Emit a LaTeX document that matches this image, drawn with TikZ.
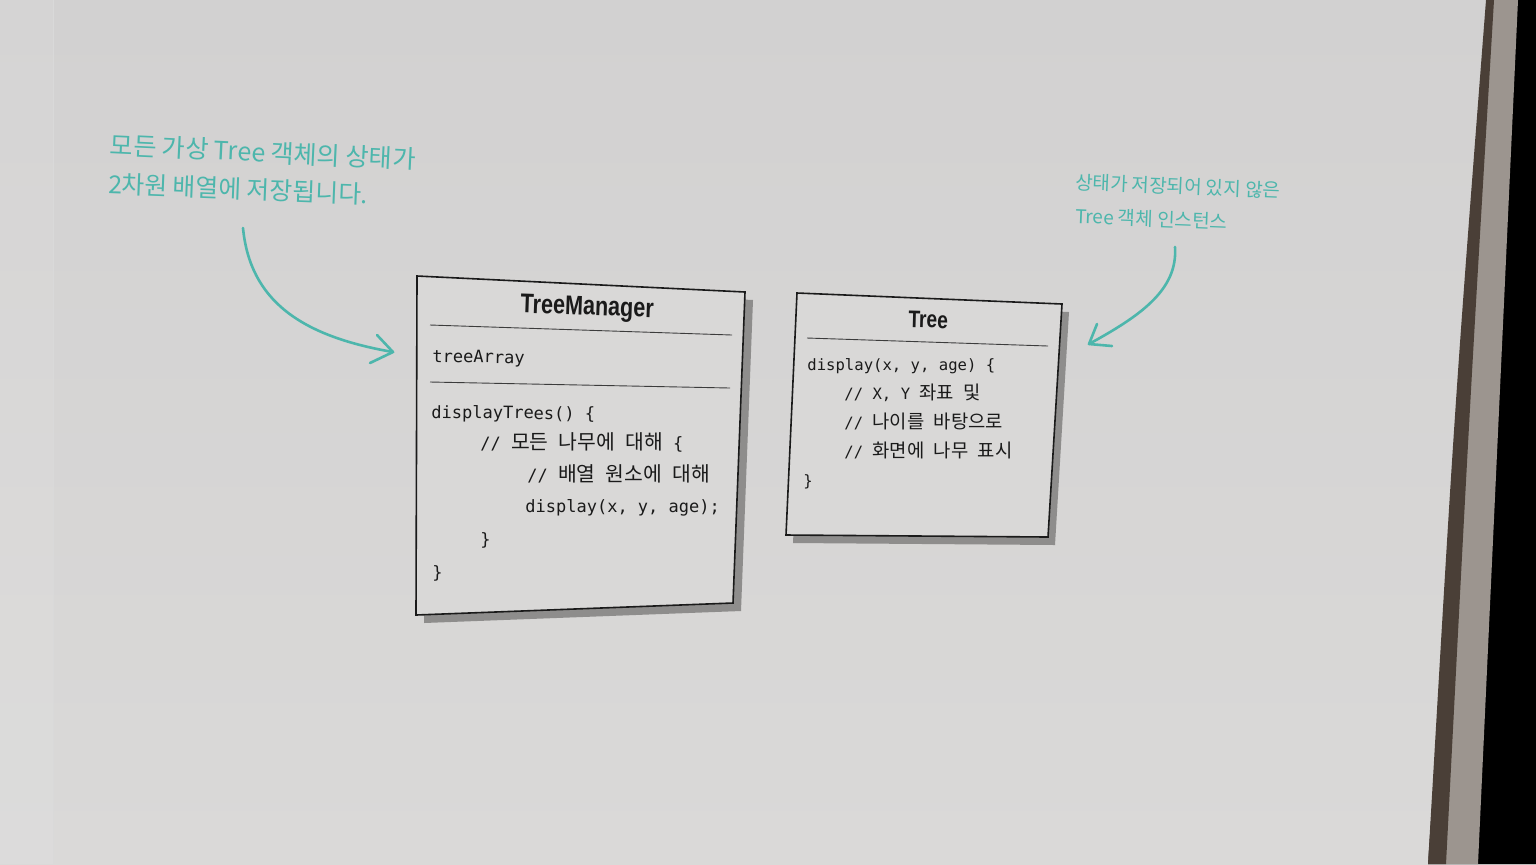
\documentclass[tikz,border=0pt]{standalone}
\usepackage{fontspec}
\setmainfont{Noto Sans CJK KR}
\newfontfamily\codefont{DejaVu Sans Mono}
\newfontfamily\codekr{Noto Sans CJK KR}
\newfontfamily\titlefont[FakeStretch=0.8]{Liberation Sans}
\newfontfamily\notefont{Noto Sans CJK KR}
\definecolor{pagetop}{HTML}{D2D1D1}
\definecolor{pagebot}{HTML}{DAD9D8}
\definecolor{boxfill}{HTML}{D9D8D7}
\definecolor{note}{HTML}{4DB6AC}
\definecolor{ink}{HTML}{1A1A1A}
\definecolor{boxshadow}{HTML}{8E8D8C}
\definecolor{spine}{HTML}{4A3F37}
\definecolor{edge}{HTML}{9C958F}
% Korean text inside the code listings (two sizes for the two boxes)
\newcommand\krL[1]{{\codekr\fontsize{10.2}{11}\selectfont#1}}
\newcommand\krS[1]{{\codekr\fontsize{9.4}{11}\selectfont#1}}
\tikzset{
  codeL/.style={anchor=base west, inner sep=0pt, text=ink, font=\codefont\fontsize{8.5}{10}\selectfont},
  codeS/.style={anchor=base west, inner sep=0pt, text=ink, font=\codefont\fontsize{7.8}{10}\selectfont},
  classtitle/.style={anchor=base, inner sep=0pt, text=ink, font=\titlefont\bfseries\fontsize{#1}{16}\selectfont},
  classbox/.style={draw=ink, line width=0.8pt, fill=boxfill, line join=miter},
  boxshade/.style={fill=boxshadow},
  divider/.style={draw=ink!85, line width=0.45pt},
  notetext/.style={anchor=west, inner sep=0pt, text=note, font=\notefont\fontsize{#1}{14}\selectfont},
  notearrow/.style={draw=note, line width=1.3pt, line cap=round, line join=round},
}
\begin{document}
\begin{tikzpicture}[x=0.5pt,y=-0.5pt]
\useasboundingbox (0,0) rectangle (1536,864);
% paper
\shade[top color=pagetop, bottom color=pagebot] (0,0) rectangle (1536,864);
\fill[white, opacity=0.08] (0,0) rectangle (53,864);
\draw[black!15, line width=0.4pt] (53,0) -- (53,864);
% right edge of the book
\fill[black] (1488,0) -- (1536,0) -- (1536,864) -- (1428,864) -- cycle;
\fill[edge] (1488,0) -- (1518,0) -- (1478,864) -- (1428,864) -- cycle;
\fill[spine] (1486,0) -- (1494,0) .. controls (1470,400) .. (1446,864) -- (1428,864) .. controls (1455,400) .. (1486,0) -- cycle;

% ---- TreeManager class ----
\coordinate (tmTL) at (417,276);
\coordinate (tmTR) at (745,292);
\coordinate (tmBR) at (733,603);
\coordinate (tmBL) at (416,615);
\fill[boxshade] ([shift={(8,8)}]tmTL) -- ([shift={(8,8)}]tmTR) -- ([shift={(8,8)}]tmBR) -- ([shift={(8,8)}]tmBL) -- cycle;
\path[classbox] (tmTL) -- (tmTR) -- (tmBR) -- (tmBL) -- cycle;
\draw[divider] (430,325) -- (732,335);
\draw[divider] (430,382) -- (730,388);
\node[classtitle=13.5, rotate=-2] (tmTitle) at (587,315) {TreeManager};
\node[codeL, rotate=-1] (tmAttr) at (432,362) {treeArray};
\node[codeL, rotate=-0.6] (tmOp) at (431,418) {displayTrees() \{};
\node[codeL] (tmL1) at (480,449) {// \krL{모든} \krL{나무에} \krL{대해} \{};
\node[codeL] (tmL2) at (527,481) {// \krL{배열} \krL{원소에} \krL{대해}};
\node[codeL] (tmL3) at (525,512) {display(x, y, age);};
\node[codeL] (tmL4) at (480,545) {\}};
\node[codeL] (tmL5) at (432,578) {\}};

% ---- Tree class ----
\coordinate (trTL) at (797,293);
\coordinate (trTR) at (1062,304);
\coordinate (trBR) at (1048,537);
\coordinate (trBL) at (786,535);
\fill[boxshade] ([shift={(7,8)}]trTL) -- ([shift={(7,8)}]trTR) -- ([shift={(7,8)}]trBR) -- ([shift={(7,8)}]trBL) -- cycle;
\path[classbox] (trTL) -- (trTR) -- (trBR) -- (trBL) -- cycle;
\draw[divider] (807,338) -- (1048,346);
\node[classtitle=12, rotate=-1.5] (trTitle) at (928,328) {Tree};
\node[codeS] (trOp) at (807,370) {display(x, y, age) \{};
\node[codeS] (trL1) at (844,399) {// X, Y \krS{좌표} \krS{및}};
\node[codeS] (trL2) at (844,428) {// \krS{나이를} \krS{바탕으로}};
\node[codeS] (trL3) at (844,457) {// \krS{화면에} \krS{나무} \krS{표시}};
\node[codeS] (trL4) at (803,486) {\}};

% ---- notes ----
\node[notetext=12.6, rotate=-2.7] (noteA1) at (110,145) {모든 가상 Tree 객체의 상태가};
\node[notetext=12.4, rotate=-2.2] (noteA2) at (108,184) {2차원 배열에 저장됩니다.};
\node[notetext=9.5, rotate=-2.4] (noteB1) at (1075,182) {상태가 저장되어 있지 않은};
\node[notetext=9.5, rotate=-2.2] (noteB2) at (1075,216) {Tree 객체 인스턴스};

% arrows from the notes to the classes
\coordinate (aStart) at (243,228);
\coordinate (aTip) at (393,352);
\draw[notearrow] (aStart) .. controls (250,300) and (300,336) .. (aTip);
\draw[notearrow] ([shift={(-16,-17)}]aTip) -- (aTip) -- ([shift={(-23,11)}]aTip);
\coordinate (bStart) at (1175,247);
\coordinate (bTip) at (1089,344);
\draw[notearrow] (bStart) .. controls (1178,290) and (1140,316) .. (bTip);
\draw[notearrow] ([shift={(8,-20)}]bTip) -- (bTip) -- ([shift={(23,2)}]bTip);
\end{tikzpicture}
\end{document}
